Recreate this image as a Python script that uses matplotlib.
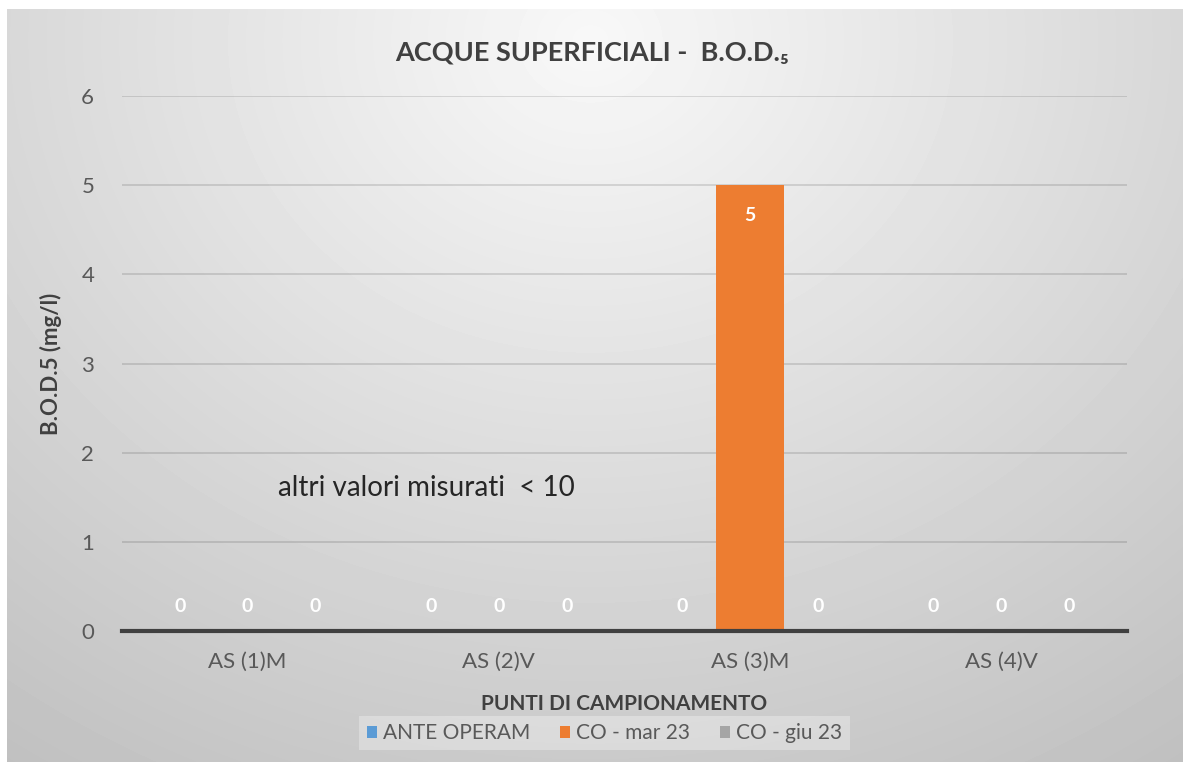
import numpy as np
import matplotlib
matplotlib.use("Agg")
import matplotlib.pyplot as plt

plt.rcParams['font.family'] = ['Lato', 'DejaVu Sans']

# data
punti = ["AS (1)M", "AS (2)V", "AS (3)M", "AS (4)V"]
serie = ["ANTE OPERAM", "CO - mar 23", "CO - giu 23"]
ante_operam = [0, 0, 0, 0]
co_mar23 = [0, 0, 5, 0]
co_giu23 = [0, 0, 0, 0]
colori = ["#5B9BD5", "#ED7D31", "#A5A5A5"]
y_ticks = [0, 1, 2, 3, 4, 5, 6]

W, H = 1183, 762
fig = plt.figure(figsize=(W / 100, H / 100), dpi=100, facecolor="white")

# gradient background of the chart area
bg = fig.add_axes([7 / W, 0, 1 - 7 / W, 1 - 9 / H], zorder=-5)
yy, xx = np.mgrid[9:H, 7:W]
dx = (xx - 590) / 583.0
dy = (yy - 40) / 722.0
drop = np.sqrt((32 * dx) ** 2 + (46 * dy) ** 2)
g = np.clip(248 - drop, 0, 255) / 255.0
bg.imshow(g, cmap="gray", vmin=0, vmax=1, aspect="auto", interpolation="bilinear")
bg.set_axis_off()

ax = fig.add_axes([122 / W, 1 - 631 / H, (1127 - 122) / W, (631 - 96) / H])
ax.patch.set_alpha(0)

x = np.arange(len(punti))
w = 0.27
valori = [ante_operam, co_mar23, co_giu23]
for i, (nome, vals) in enumerate(zip(serie, valori)):
    pos = x + (i - 1) * w
    ax.bar(pos, vals, width=w, color=colori[i], label=nome, zorder=3)
    for px, v in zip(pos, vals):
        if v == 0:
            ax.text(px, 0.27, "0", color="white", ha="center", va="center",
                    fontsize=14, fontweight="bold", zorder=4)
        else:
            ax.text(px, v - 0.34, str(v), color="white", ha="center", va="center",
                    fontsize=14, fontweight="bold", zorder=4)

ax.set_xlim(-0.5, 3.5)
ax.set_ylim(0, 6)
ax.set_yticks(y_ticks)
ax.set_xticks(x)
ax.set_xticklabels(punti)
ax.tick_params(axis="both", length=0, labelsize=16, colors="#595959")
ax.tick_params(axis="y", pad=20)
ax.tick_params(axis="x", pad=15)
ax.grid(axis="y", color="black", alpha=0.14, linewidth=1.2, zorder=0)
for s in ["top", "right", "left"]:
    ax.spines[s].set_visible(False)
ax.spines["bottom"].set_color("#404040")
ax.spines["bottom"].set_linewidth(3)
ax.spines["bottom"].set_zorder(5)

ax.set_ylabel("B.O.D.5 (mg/l)", fontsize=16, fontweight="bold", color="#404040", labelpad=14)
ax.set_xlabel("PUNTI DI CAMPIONAMENTO", fontsize=15, fontweight="bold", color="#404040", labelpad=16)

fig.text(592 / W, 1 - 52 / H, "ACQUE SUPERFICIALI -  B.O.D.\u2085", ha="center", va="center",
         fontsize=19.5, fontweight="bold", color="#404040")

ax.text(0.12, 1.6, "altri valori misurati  < 10", fontsize=20, color="#262626",
        ha="left", va="center", zorder=4)

leg = ax.legend(loc="center", bbox_to_anchor=(0.511, 1 - 733 / H), bbox_transform=fig.transFigure,
                ncol=3, frameon=True, fontsize=15, handlelength=0.5, handleheight=0.5,
                handletextpad=0.3, columnspacing=1.4, borderpad=0.35)
leg.get_frame().set_facecolor("white")
leg.get_frame().set_alpha(0.3)
leg.get_frame().set_edgecolor("none")
leg.get_frame().set_boxstyle("square", pad=0)
for t in leg.get_texts():
    t.set_color("#595959")

fig.savefig("out.png", dpi=100, facecolor="white")
